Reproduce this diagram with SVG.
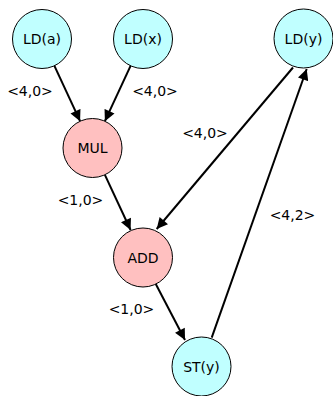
<svg xmlns="http://www.w3.org/2000/svg" width="333" height="396" viewBox="0 0 333 396">
<style>
.n{stroke:#000;stroke-width:1}
.ld{fill:#c0ffff}
.op{fill:#ffc0c0}
text{font-family:"DejaVu Sans",sans-serif;font-size:14px;fill:#000}
.c{text-anchor:middle}
.e{stroke:#000;stroke-width:2;fill:none;marker-end:url(#ah)}
</style>
<defs>
<marker id="ah" markerUnits="userSpaceOnUse" viewBox="0 0 10 10" refX="10" refY="5" markerWidth="12" markerHeight="11" orient="auto">
<path d="M0,0 L10,5 L0,10 z" fill="#000"/>
</marker>
</defs>
<rect width="333" height="396" fill="#fff"/>
<g id="edges">
<line class="e" x1="54.2" y1="65.3" x2="80.1" y2="121.2"/>
<line class="e" x1="130.8" y1="65.3" x2="104.9" y2="121.2"/>
<line class="e" x1="104.9" y1="174.8" x2="130.6" y2="230"/>
<line class="e" x1="293" y1="67.5" x2="156.7" y2="229"/>
<line class="e" x1="155.5" y1="283.5" x2="185" y2="340"/>
<line class="e" x1="211.7" y1="337.7" x2="306.7" y2="69"/>
<text x="30" y="96" class="c">&lt;4,0&gt;</text>
<text x="155" y="96" class="c">&lt;4,0&gt;</text>
<text x="205" y="138" class="c">&lt;4,0&gt;</text>
<text x="80.5" y="205" class="c">&lt;1,0&gt;</text>
<text x="292.5" y="220" class="c">&lt;4,2&gt;</text>
<text x="131.5" y="314" class="c">&lt;1,0&gt;</text>
</g>
<g id="LDa"><circle class="n ld" cx="42" cy="39" r="29.5"/><text x="42" y="44" class="c">LD(a)</text></g>
<g id="LDx"><circle class="n ld" cx="143" cy="39" r="29.5"/><text x="143" y="44" class="c">LD(x)</text></g>
<g id="LDy"><circle class="n ld" cx="303.5" cy="38.5" r="29.5"/><text x="303.5" y="44" class="c">LD(y)</text></g>
<g id="MUL"><circle class="n op" cx="92.5" cy="148" r="29.5"/><text x="92.5" y="153" class="c">MUL</text></g>
<g id="ADD"><circle class="n op" cx="143" cy="257.5" r="29.5"/><text x="143" y="262.5" class="c">ADD</text></g>
<g id="STy"><circle class="n ld" cx="201.5" cy="366.5" r="29.5"/><text x="201.5" y="372" class="c">ST(y)</text></g>
</svg>
